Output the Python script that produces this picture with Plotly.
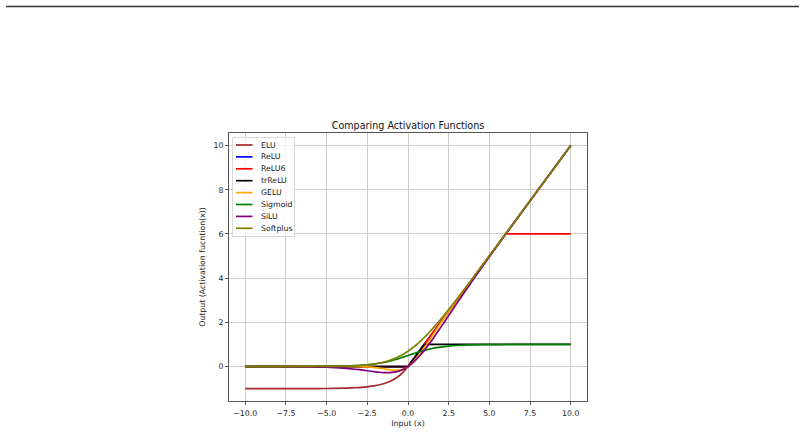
import plotly.graph_objects as go

# ---- data (values read/estimated from the reference) ----
x = [-10, -9, -8, -7, -6, -5, -4, -3.5, -3, -2.5, -2, -1.75, -1.5, -1.25, -1, -0.75, -0.5, -0.25,
     0, 0.25, 0.5, 0.75, 1, 1.25, 1.5, 1.75, 2, 2.5, 3, 3.5, 4, 5, 6, 7, 8, 9, 10]

elu = [-1.0, -0.9999, -0.9997, -0.9991, -0.9975, -0.9933, -0.9817, -0.9698, -0.9502, -0.9179,
       -0.8647, -0.8262, -0.7769, -0.7135, -0.6321, -0.5276, -0.3935, -0.2212,
       0, 0.25, 0.5, 0.75, 1, 1.25, 1.5, 1.75, 2, 2.5, 3, 3.5, 4, 5, 6, 7, 8, 9, 10]
relu = [0, 0, 0, 0, 0, 0, 0, 0, 0, 0, 0, 0, 0, 0, 0, 0, 0, 0,
        0, 0.25, 0.5, 0.75, 1, 1.25, 1.5, 1.75, 2, 2.5, 3, 3.5, 4, 5, 6, 7, 8, 9, 10]
relu6 = [0, 0, 0, 0, 0, 0, 0, 0, 0, 0, 0, 0, 0, 0, 0, 0, 0, 0,
         0, 0.25, 0.5, 0.75, 1, 1.25, 1.5, 1.75, 2, 2.5, 3, 3.5, 4, 5, 6, 6, 6, 6, 6]
trrelu = [0, 0, 0, 0, 0, 0, 0, 0, 0, 0, 0, 0, 0, 0, 0, 0, 0, 0,
          0, 0.25, 0.5, 0.75, 1, 1, 1, 1, 1, 1, 1, 1, 1, 1, 1, 1, 1, 1, 1]
gelu = [0, 0, 0, 0, 0, 0, -0.0001, -0.0008, -0.0041, -0.0155, -0.0455, -0.0701, -0.1002, -0.1321,
        -0.1587, -0.1700, -0.1543, -0.1003,
        0, 0.1497, 0.3457, 0.5800, 0.8413, 1.1179, 1.3998, 1.6799, 1.9545, 2.4845, 2.9960, 3.4992,
        3.9999, 5, 6, 7, 8, 9, 10]
sigmoid = [0.00005, 0.0001, 0.0003, 0.0009, 0.0025, 0.0067, 0.0180, 0.0293, 0.0474, 0.0759, 0.1192,
           0.1480, 0.1824, 0.2227, 0.2689, 0.3208, 0.3775, 0.4378,
           0.5, 0.5622, 0.6225, 0.6792, 0.7311, 0.7773, 0.8176, 0.8520, 0.8808, 0.9241, 0.9526,
           0.9707, 0.9820, 0.9933, 0.9975, 0.9991, 0.9997, 0.9999, 1.0]
silu = [-0.0005, -0.0011, -0.0027, -0.0064, -0.0148, -0.0335, -0.0719, -0.1026, -0.1423, -0.1897,
        -0.2384, -0.2590, -0.2736, -0.2784, -0.2689, -0.2406, -0.1888, -0.1095,
        0, 0.1405, 0.3112, 0.5094, 0.7311, 0.9716, 1.2264, 1.4910, 1.7616, 2.3103, 2.8577, 3.3975,
        3.9281, 4.9665, 5.9852, 6.9936, 7.9973, 8.9989, 9.9995]
softplus = [0.00005, 0.0001, 0.0003, 0.0009, 0.0025, 0.0067, 0.0182, 0.0298, 0.0486, 0.0789, 0.1269,
            0.1602, 0.2014, 0.2519, 0.3133, 0.3873, 0.4741, 0.5759,
            0.6931, 0.8259, 0.9741, 1.1373, 1.3133, 1.5019, 1.7014, 1.9102, 2.1269, 2.5789, 3.0486,
            3.5297, 4.0181, 5.0067, 6.0025, 7.0009, 8.0003, 9.0001, 10.0]

names = ["ELU", "ReLU", "ReLU6", "trReLU", "GELU", "Sigmoid", "SiLU", "Softplus"]
series = [elu, relu, relu6, trrelu, gelu, sigmoid, silu, softplus]
colors = ["#a52a2a", "#0000ff", "#ff0000", "#000000", "#ffa500", "#008000", "#800080", "#808000"]
smooth = [True, False, False, False, True, True, True, True]

x_ticks = [-10, -7.5, -5, -2.5, 0, 2.5, 5, 7.5, 10]
y_ticks = [0, 2, 4, 6, 8, 10]

W, H = 804, 432
L, R, T, B = 229, 587, 133, 401
FONT = "DejaVu Sans"
FS = 7.8

def pxx(p):
    return (p - L) / (R - L)

def pxy(p):
    return (B - p) / (B - T)

fig = go.Figure()
for n, s, c, sm in zip(names, series, colors, smooth):
    fig.add_trace(go.Scatter(x=x, y=s, mode="lines", name=n,
                             line=dict(color=c, width=1.7, shape="spline" if sm else "linear",
                                       smoothing=0.6)))

axis_common = dict(showgrid=True, gridcolor="#cccccc", gridwidth=1, zeroline=False,
                   showline=True, linecolor="#555555", linewidth=1, mirror=True,
                   ticks="outside", ticklen=3, tickcolor="#555555", tickwidth=1,
                   automargin=False,
                   tickfont=dict(family=FONT, size=FS, color="#222222"))

fig.update_layout(
    width=W, height=H,
    margin=dict(l=L, r=W - R, t=T, b=H - B),
    paper_bgcolor="white", plot_bgcolor="white",
    showlegend=False,
    title=dict(text="Comparing Activation Functions", x=(L + R) / 2 / W, xanchor="center",
               y=1 - 126 / H, yanchor="middle",
               font=dict(family=FONT, size=9.6, color="#111111")),
    xaxis=dict(range=[-11, 11], tickvals=x_ticks, ticktext=[f"{v:.1f}".replace("-", "\u2212") for v in x_ticks],
               ticklabelstandoff=2,
               title=dict(text="Input (x)", font=dict(family=FONT, size=FS, color="#222222"), standoff=3),
               **axis_common),
    yaxis=dict(range=[-1.56, 10.57], tickvals=y_ticks,
               title=dict(text="Output (Activation fucntion(x))", font=dict(family=FONT, size=FS, color="#222222"),
                          standoff=6),
               **axis_common),
)

# top separator line from the screenshot
fig.add_shape(type="line", xref="paper", yref="paper", x0=pxx(6), x1=pxx(799), y0=pxy(6.5), y1=pxy(6.5),
              line=dict(color="#333333", width=1.5))

# legend box
fig.add_shape(type="rect", xref="paper", yref="paper", x0=pxx(232.5), x1=pxx(294.5), y0=pxy(137.5), y1=pxy(236.5),
              line=dict(color="#d8d8d8", width=1), fillcolor="rgba(255,255,255,0.8)")
for i, (n, c) in enumerate(zip(names, colors)):
    yy = 145 + i * 11.9
    fig.add_shape(type="line", xref="paper", yref="paper", x0=pxx(236), x1=pxx(252.5), y0=pxy(yy), y1=pxy(yy),
                  line=dict(color=c, width=1.7))
    fig.add_annotation(xref="paper", yref="paper", x=pxx(258.5), y=pxy(yy), text=n, showarrow=False,
                       xanchor="left", yanchor="middle", font=dict(family=FONT, size=FS, color="#222222"))

fig.write_html("out.html")
